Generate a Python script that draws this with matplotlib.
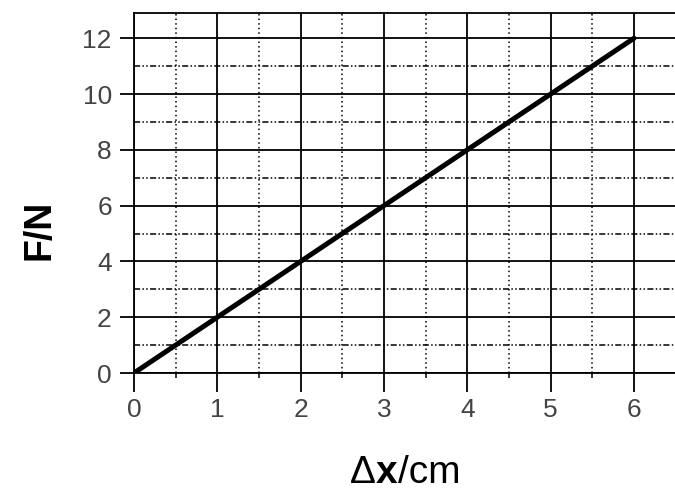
import numpy as np
import matplotlib.pyplot as plt
from matplotlib.ticker import MultipleLocator

plt.rcParams['font.family'] = ['Liberation Sans', 'DejaVu Sans']

# data: spring extension vs force
dx = [0, 6]
F = [0, 12]
xticks = [0, 1, 2, 3, 4, 5, 6]
yticks = [0, 2, 4, 6, 8, 10, 12]

fig = plt.figure(figsize=(6.75, 4.93), dpi=100)
ax = fig.add_axes([0.1985, 0.2434, 0.8025, 0.730])

ax.set_xlim(0, 6.5)
ax.set_ylim(0, 12.9)
ax.set_xticks(xticks)
ax.set_yticks(yticks)
ax.xaxis.set_minor_locator(MultipleLocator(0.5))
ax.yaxis.set_minor_locator(MultipleLocator(1))

# grid: solid majors, dotted x minors, dash-dot-dot y minors
ax.grid(which='major', color='black', lw=1.3, ls='-')
ax.xaxis.grid(which='minor', color='black', lw=1.1, ls=(0, (1, 2)))
ax.yaxis.grid(which='minor', color='black', lw=1.1, ls=(0, (4, 1.5, 1, 1.5, 1, 1.5)))
ax.set_axisbelow(True)

ax.plot(dx, F, color='black', lw=3.6, solid_capstyle='round', zorder=3)

for s in ['left', 'bottom', 'top']:
    ax.spines[s].set_linewidth(1.3)
ax.spines['right'].set_visible(False)

ax.tick_params(which='major', direction='out', width=1.3,
               labelsize=19, labelcolor='#444444')
ax.tick_params(axis='x', which='major', length=14, pad=4)
ax.tick_params(axis='y', which='major', length=10, pad=6)
ax.tick_params(axis='x', which='minor', direction='out', length=3.5, width=1.1)
ax.tick_params(axis='y', which='minor', length=0)

fig.text(0.058, 0.533, 'F/N', fontsize=27, fontweight='bold',
         rotation=90, ha='center', va='center')
fig.text(0.557, 0.04, u'\u0394', fontsize=28, ha='right', va='center')
fig.text(0.557, 0.04, 'x', fontsize=28, fontweight='bold', ha='left', va='center')
fig.text(0.590, 0.04, '/cm', fontsize=28, ha='left', va='center')

fig.savefig('out.png', dpi=100)
